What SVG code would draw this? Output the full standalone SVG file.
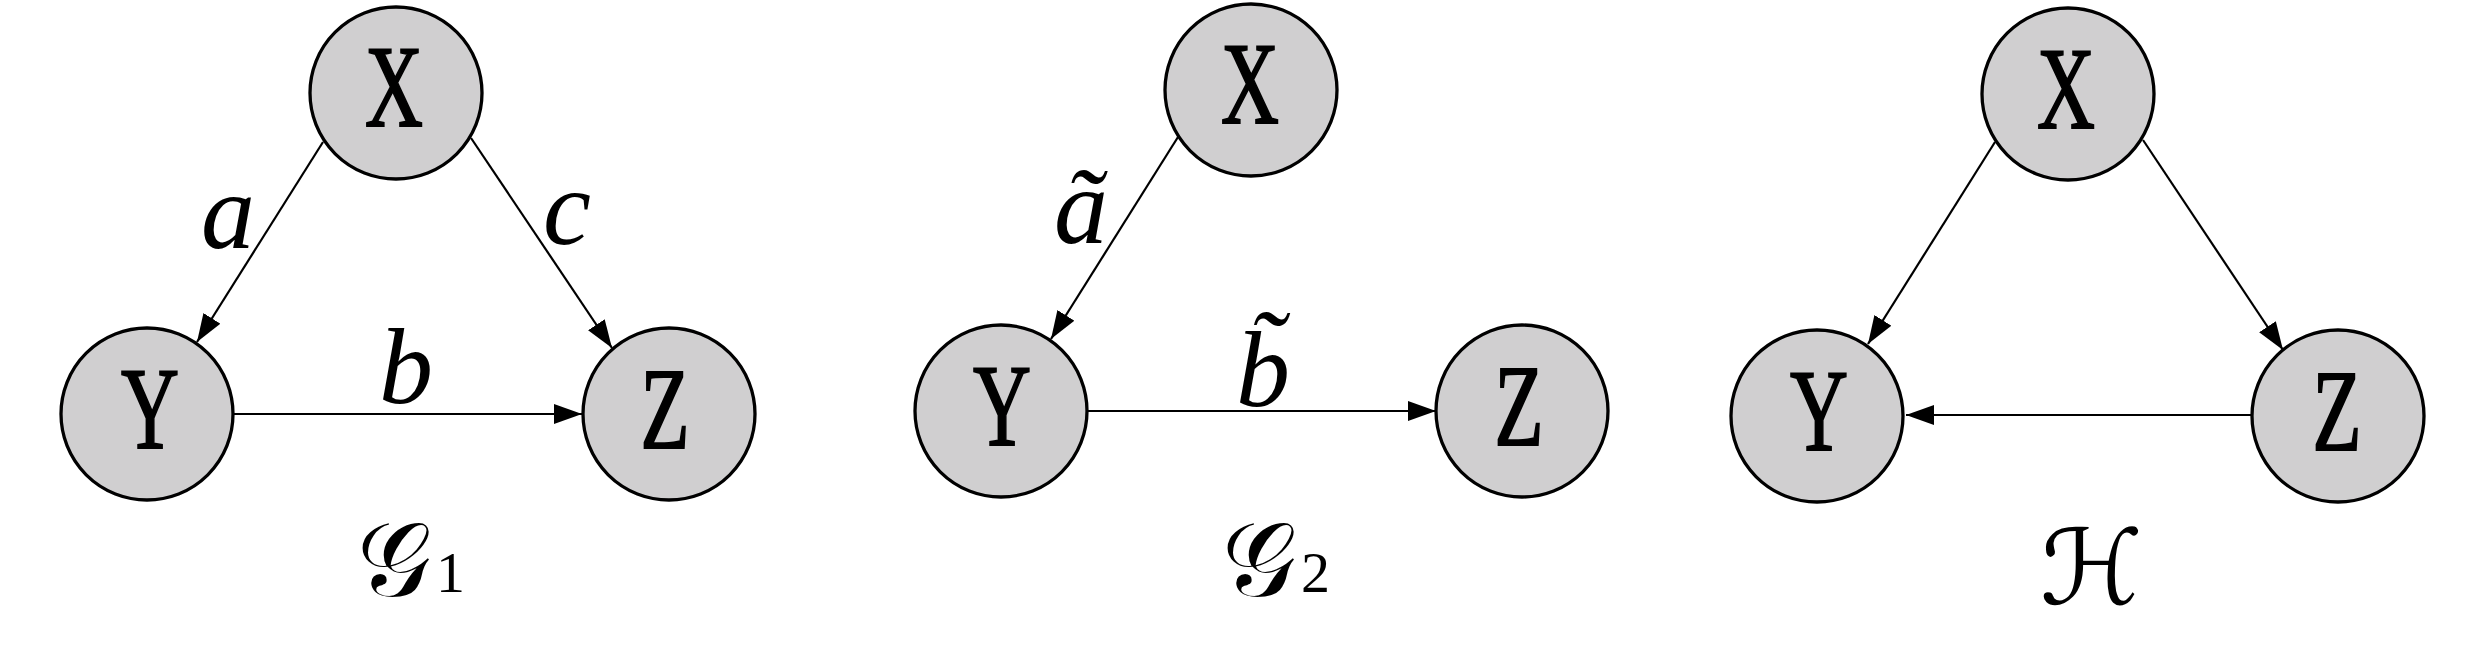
<svg xmlns="http://www.w3.org/2000/svg" width="2479" height="655" viewBox="0 0 2479 655">
<style>
.node{fill:#d0cfd0;stroke:#000;stroke-width:3.3}
.nl{font-family:"Liberation Serif",serif;font-size:116px;text-anchor:middle;fill:#000;stroke:#000;stroke-width:2}
.edge{stroke:#000;stroke-width:2.2;fill:none;marker-end:url(#ah)}
.el{font-family:"Liberation Serif",serif;font-style:italic;font-size:108px;text-anchor:middle;fill:#000}
.cap{font-family:"DejaVu Serif","DejaVu Sans","Liberation Serif",serif;font-size:104px;fill:#000}
.sub{font-family:"Liberation Serif",serif;font-size:58px}
</style>
<defs>
<marker id="ah" markerUnits="userSpaceOnUse" markerWidth="30" markerHeight="22" refX="28" refY="10" orient="auto">
<path d="M0,0 L28,10 L0,20 Z" fill="#000"/>
</marker>
</defs>
<g id="connectors">
<line class="edge" x1="323" y1="142" x2="197" y2="342"/>
<line class="edge" x1="471" y1="138" x2="612" y2="348"/>
<line class="edge" x1="233" y1="414" x2="582" y2="414"/>
<line class="edge" x1="1178" y1="137" x2="1051" y2="339"/>
<line class="edge" x1="1087" y1="411" x2="1436" y2="411"/>
<line class="edge" x1="1995" y1="142" x2="1868" y2="344"/>
<line class="edge" x1="2143" y1="140" x2="2283" y2="350"/>
<line class="edge" x1="2252" y1="415" x2="1906" y2="415"/>
</g>
<g id="g1-X"><circle class="node" cx="396" cy="93" r="86"/><text class="nl" x="394" y="126" textLength="58" lengthAdjust="spacingAndGlyphs">X</text></g>
<g id="g1-Y"><circle class="node" cx="147" cy="414" r="86"/><text class="nl" x="150" y="448" textLength="58" lengthAdjust="spacingAndGlyphs">Y</text></g>
<g id="g1-Z"><circle class="node" cx="669" cy="414" r="86"/><text class="nl" x="665" y="448" textLength="49" lengthAdjust="spacingAndGlyphs">Z</text></g>
<g id="g2-X"><circle class="node" cx="1251" cy="90" r="86"/><text class="nl" x="1250" y="123" textLength="58" lengthAdjust="spacingAndGlyphs">X</text></g>
<g id="g2-Y"><circle class="node" cx="1001" cy="411" r="86"/><text class="nl" x="1002" y="445" textLength="58" lengthAdjust="spacingAndGlyphs">Y</text></g>
<g id="g2-Z"><circle class="node" cx="1522" cy="411" r="86"/><text class="nl" x="1519" y="445" textLength="49" lengthAdjust="spacingAndGlyphs">Z</text></g>
<g id="h-X"><circle class="node" cx="2068" cy="94" r="86"/><text class="nl" x="2066" y="128" textLength="58" lengthAdjust="spacingAndGlyphs">X</text></g>
<g id="h-Y"><circle class="node" cx="1817" cy="416" r="86"/><text class="nl" x="1819" y="450" textLength="58" lengthAdjust="spacingAndGlyphs">Y</text></g>
<g id="h-Z"><circle class="node" cx="2338" cy="416" r="86"/><text class="nl" x="2337" y="450" textLength="49" lengthAdjust="spacingAndGlyphs">Z</text></g>
<g id="labels">
<text class="el" x="228" y="248">a</text>
<text class="el" x="567" y="244">c</text>
<text class="el" x="406" y="403">b</text>
<text class="el" x="1081" y="243">ã</text>
<text class="el" x="1263" y="406">b̃</text>
<text class="cap" x="357" y="596">𝒢<tspan class="sub" dx="5" y="592">1</tspan></text>
<text class="cap" x="1222" y="596">𝒢<tspan class="sub" dx="5" y="592">2</tspan></text>
<text class="cap" x="2040" y="604">ℋ</text>
</g>
</svg>
